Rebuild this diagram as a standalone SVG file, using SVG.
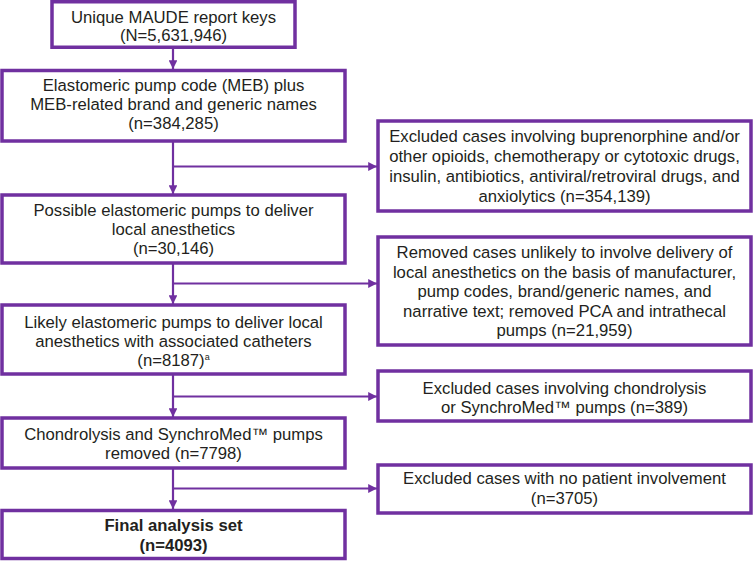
<svg xmlns="http://www.w3.org/2000/svg" width="753" height="561" viewBox="0 0 753 561">
<style>
  .box { fill: #ffffff; stroke: #7030A0; stroke-width: 3.5; }
  .t { font-family: "Liberation Sans", Arial, sans-serif; font-size: 16.7px; fill: #231F20; text-anchor: middle; }
  .b { font-weight: bold; }
  .c { fill: none; stroke: #7030A0; stroke-width: 2.2; }
  .sup { font-size: 9px; }
</style>
<defs>
  <marker id="ah" viewBox="0 0 10 10" refX="10" refY="5" markerWidth="4" markerHeight="4" orient="auto" markerUnits="strokeWidth">
    <path d="M0,0 L10,5 L0,10 z" fill="#7030A0"/>
  </marker>
</defs>
<rect width="753" height="561" fill="#ffffff"/>
<g id="connectors">
  <line class="c" x1="173" y1="47" x2="173" y2="69" marker-end="url(#ah)"/>
  <line class="c" x1="173" y1="141" x2="173" y2="194" marker-end="url(#ah)"/>
  <line class="c" x1="173" y1="263" x2="173" y2="304" marker-end="url(#ah)"/>
  <line class="c" x1="173" y1="374" x2="173" y2="417" marker-end="url(#ah)"/>
  <line class="c" x1="173" y1="468" x2="173" y2="509" marker-end="url(#ah)"/>
  <line class="c" x1="173" y1="166.5" x2="377" y2="166.5" marker-end="url(#ah)"/>
  <line class="c" x1="173" y1="283.5" x2="377" y2="283.5" marker-end="url(#ah)"/>
  <line class="c" x1="173" y1="396.5" x2="377" y2="396.5" marker-end="url(#ah)"/>
  <line class="c" x1="173" y1="488.5" x2="377" y2="488.5" marker-end="url(#ah)"/>
</g>
<g id="n1">
  <rect class="box" x="52" y="1.75" width="243" height="45.5"/>
  <text class="t" x="173.5" y="22.5">Unique MAUDE report keys</text>
  <text class="t" x="173.5" y="41">(N=5,631,946)</text>
</g>
<g id="n2">
  <rect class="box" x="2" y="70.5" width="343" height="70.5"/>
  <text class="t" x="173.5" y="91">Elastomeric pump code (MEB) plus</text>
  <text class="t" x="173.5" y="110">MEB-related brand and generic names</text>
  <text class="t" x="173.5" y="129">(n=384,285)</text>
</g>
<g id="n3">
  <rect class="box" x="2" y="195" width="343" height="68"/>
  <text class="t" x="173.5" y="216">Possible elastomeric pumps to deliver</text>
  <text class="t" x="173.5" y="235">local anesthetics</text>
  <text class="t" x="173.5" y="254">(n=30,146)</text>
</g>
<g id="n4">
  <rect class="box" x="2" y="305" width="343" height="69"/>
  <text class="t" x="173.5" y="328">Likely elastomeric pumps to deliver local</text>
  <text class="t" x="173.5" y="347">anesthetics with associated catheters</text>
  <text class="t" x="173.5" y="366">(n=8187)<tspan class="sup" dy="-6">a</tspan></text>
</g>
<g id="n5">
  <rect class="box" x="2" y="418" width="343" height="50"/>
  <text class="t" x="173.5" y="440">Chondrolysis and SynchroMed™ pumps</text>
  <text class="t" x="173.5" y="459">removed (n=7798)</text>
</g>
<g id="n6">
  <rect class="box" x="2" y="510.5" width="343" height="48"/>
  <text class="t b" x="173.5" y="531">Final analysis set</text>
  <text class="t b" x="173.5" y="551">(n=4093)</text>
</g>
<g id="r1">
  <rect class="box" x="378" y="121" width="373" height="90"/>
  <text class="t" x="564.5" y="142">Excluded cases involving buprenorphine and/or</text>
  <text class="t" x="564.5" y="162">other opioids, chemotherapy or cytotoxic drugs,</text>
  <text class="t" x="564.5" y="182">insulin, antibiotics, antiviral/retroviral drugs, and</text>
  <text class="t" x="564.5" y="202">anxiolytics (n=354,139)</text>
</g>
<g id="r2">
  <rect class="box" x="378" y="237" width="373" height="108"/>
  <text class="t" x="564.5" y="258">Removed cases unlikely to involve delivery of</text>
  <text class="t" x="564.5" y="277.5">local anesthetics on the basis of manufacturer,</text>
  <text class="t" x="564.5" y="297">pump codes, brand/generic names, and</text>
  <text class="t" x="564.5" y="316.5">narrative text; removed PCA and intrathecal</text>
  <text class="t" x="564.5" y="336">pumps (n=21,959)</text>
</g>
<g id="r3">
  <rect class="box" x="378" y="371" width="373" height="50"/>
  <text class="t" x="564.5" y="394">Excluded cases involving chondrolysis</text>
  <text class="t" x="564.5" y="413">or SynchroMed™ pumps (n=389)</text>
</g>
<g id="r4">
  <rect class="box" x="378" y="465" width="373" height="48"/>
  <text class="t" x="564.5" y="484">Excluded cases with no patient involvement</text>
  <text class="t" x="564.5" y="504">(n=3705)</text>
</g>
</svg>
